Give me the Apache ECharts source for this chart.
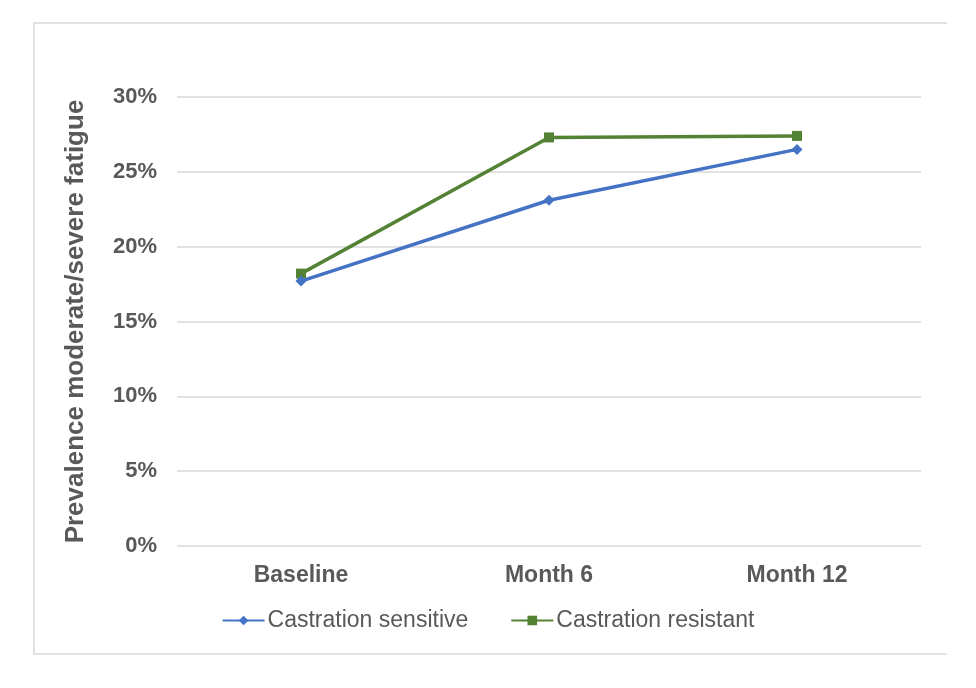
<!DOCTYPE html>
<html>
<head>
<meta charset="utf-8">
<script src="https://cdn.jsdelivr.net/npm/echarts@6/dist/echarts.min.js"></script>
<style>
  html, body { margin: 0; padding: 0; background: #fff; }
  #chart { width: 976px; height: 688px; }
</style>
</head>
<body>
<div id="chart"></div>
<script>
// data (percent)
const categories = ['Baseline', 'Month 6', 'Month 12'];
const sensitive = [17.7, 23.1, 26.5];
const resistant = [18.2, 27.3, 27.4];
const seriesNames = ['Castration sensitive', 'Castration resistant'];

const textColor = '#595959';
const fontFam = 'Liberation Sans, Arial, sans-serif';
const myChart = echarts.init(document.getElementById('chart'));

const option = {
  backgroundColor: '#fff',
  animation: false,
  graphic: [
    {
      type: 'polyline',
      shape: { points: [[947, 23], [34, 23], [34, 654], [947, 654]] },
      style: { stroke: '#d9d9d9', fill: null, lineWidth: 1.5 }
    }
  ],
  grid: { left: 177, right: 55, top: 97, bottom: 142 },
  legend: {
    top: 604,
    left: 'center',
    itemWidth: 42,
    itemHeight: 12,
    itemGap: 42,
    textStyle: { color: textColor, fontSize: 23, fontFamily: fontFam, padding: [0, 0, 0, -2] },
    data: seriesNames
  },
  xAxis: {
    type: 'category',
    data: categories,
    axisLine: { show: false },
    axisTick: { show: false },
    axisLabel: {
      color: textColor, fontSize: 23, fontWeight: 'bold', margin: 18,
      fontFamily: fontFam
    }
  },
  yAxis: {
    type: 'value',
    min: 0,
    max: 30,
    interval: 5,
    name: 'Prevalence moderate/severe fatigue',
    nameLocation: 'middle',
    nameGap: 88,
    nameTextStyle: {
      color: textColor, fontSize: 26, fontWeight: 'bold',
      fontFamily: fontFam
    },
    axisLine: { show: false },
    axisTick: { show: false },
    splitLine: { lineStyle: { color: '#d9d9d9', width: 1.5 } },
    axisLabel: {
      color: textColor, fontSize: 22, fontWeight: 'bold', margin: 20,
      fontFamily: fontFam,
      formatter: v => v + '%'
    }
  },
  series: [
    {
      name: seriesNames[0],
      type: 'line',
      data: sensitive,
      symbol: 'diamond',
      symbolSize: 11,
      color: '#4472c4',
      lineStyle: { width: 3.5 },
      z: 3
    },
    {
      name: seriesNames[1],
      type: 'line',
      data: resistant,
      symbol: 'rect',
      symbolSize: 10,
      color: '#548235',
      lineStyle: { width: 3.5 },
      z: 2
    }
  ]
};

myChart.setOption(option);
</script>
</body>
</html>
